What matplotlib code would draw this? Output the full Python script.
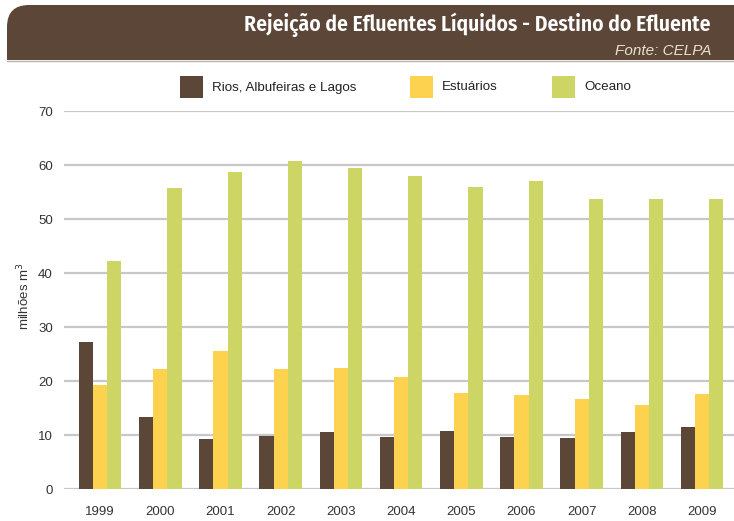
import matplotlib
matplotlib.use('Agg')
import matplotlib.pyplot as plt
import numpy as np
from matplotlib.patches import FancyBboxPatch, Rectangle

plt.rcParams['font.family'] = ['Liberation Sans', 'DejaVu Sans']

# volumes rejected per destination, millions of m3
anos = ['1999', '2000', '2001', '2002', '2003', '2004', '2005', '2006', '2007', '2008', '2009']
rios = [27.2, 13.3, 9.3, 9.8, 10.6, 9.6, 10.7, 9.6, 9.4, 10.6, 11.5]
estuarios = [19.3, 22.2, 25.6, 22.2, 22.4, 20.7, 17.8, 17.4, 16.7, 15.6, 17.6]
oceano = [42.2, 55.7, 58.7, 60.7, 59.4, 58.0, 55.9, 57.0, 53.7, 53.7, 53.7]
series = ['Rios, Albufeiras e Lagos', 'Estuários', 'Oceano']
yticks = [0, 10, 20, 30, 40, 50, 60, 70]

castanho = '#5b4637'
amarelo = '#fcd24f'
verde = '#cdd564'

W, H = 734, 521
fig = plt.figure(figsize=(W/100, H/100), dpi=100)

ax = fig.add_axes([64/W, 32/H, 1 - 64/W, 378/H])
x = np.arange(len(anos))
bw = 0.235
ax.bar(x - bw, rios, bw, color=castanho, zorder=3)
ax.bar(x, estuarios, bw, color=amarelo, zorder=3)
ax.bar(x + bw, oceano, bw, color=verde, zorder=3)

ax.set_xlim(-0.6, 10.53)
ax.set_ylim(0, 70)
ax.set_yticks(yticks)
ax.set_xticks(x)
ax.set_xticklabels(anos)
ax.yaxis.grid(True, color='#c8c8c8', lw=1.6, zorder=0)
for s in ax.spines.values():
    s.set_visible(False)
ax.tick_params(length=0, labelsize=9.5, labelcolor='#333333')
ax.tick_params(axis='y', pad=8)
ax.tick_params(axis='x', pad=12)
ax.set_ylabel('milhões m$^3$', fontsize=9.5, color='#333333', labelpad=5)
ax.yaxis.set_label_coords(-32/670, 0.51)

# header band and legend drawn in pixel coordinates
ov = fig.add_axes([0, 0, 1, 1], zorder=5)
ov.set_xlim(0, W)
ov.set_ylim(H, 0)
ov.axis('off')
ov.add_patch(FancyBboxPatch((7, 5), 800, 55, boxstyle='round,pad=0,rounding_size=22',
                            fc=castanho, ec='none'))
ov.add_patch(Rectangle((7, 35), 800, 25, fc=castanho, ec='none'))
ov.plot([7, W], [60.5, 60.5], color='#b9b2a8', lw=1)
ov.text(711, 31, 'Rejeição de Efluentes Líquidos - Destino do Efluente', ha='right', va='baseline',
        color='white', fontsize=15.5, fontweight='semibold', family='Fira Sans Condensed')
ov.text(711, 55, 'Fonte: CELPA', ha='right', va='baseline', color='#e9e2c9',
        fontsize=11, style='italic')

leg_x = [180, 410, 552]
for lx, nome, cor in zip(leg_x, series, [castanho, amarelo, verde]):
    ov.add_patch(Rectangle((lx, 76), 23, 22, fc=cor, ec='none'))
    ov.text(lx + 32, 87.5, nome, ha='left', va='center', fontsize=9.6, color='#222222')

fig.savefig('out.png', dpi=100)
